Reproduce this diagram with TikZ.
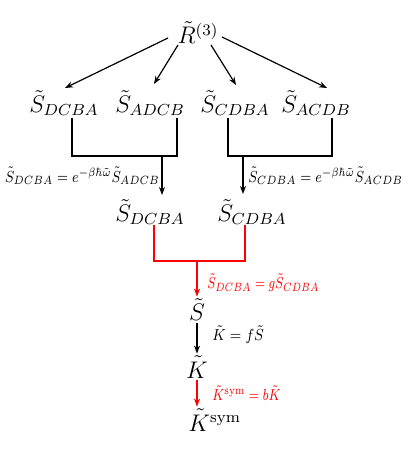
\documentclass[tikz,border=0pt]{standalone}
\usepackage{graphicx}
\usetikzlibrary{arrows.meta}
\newcommand\lblx[2]{\scalebox{#1}[1]{#2}}
\begin{document}
\begin{tikzpicture}[x=0.5pt,y=-0.5pt,
  mainnode/.style={inner sep=1pt,font=\large},
  lbl/.style={inner sep=1pt,font=\footnotesize},
  conn/.style={semithick,-{Stealth[length=4pt,width=3pt]}},
  brk/.style={semithick}]
\useasboundingbox (0,0) rectangle (415,453);
% nodes
\node[mainnode] (R) at (198,33) {$\tilde R^{(3)}$};
\node[mainnode] (a1) at (64,103) {$\tilde S_{DCBA}$};
\node[mainnode] (a2) at (150,103) {$\tilde S_{ADCB}$};
\node[mainnode] (a3) at (235,103) {$\tilde S_{CDBA}$};
\node[mainnode] (a4) at (316,103) {$\tilde S_{ACDB}$};
\node[mainnode] (b1) at (150,212) {$\tilde S_{DCBA}$};
\node[mainnode] (b2) at (252,212) {$\tilde S_{CDBA}$};
\node[mainnode] (S) at (197,310) {$\tilde S$};
\node[mainnode] (K) at (197,367) {$\tilde K$};
\node[mainnode,anchor=west] (Ks) at (186,420) {$\tilde K^{\mathrm{sym}}$};
% arrows from R
\coordinate (r1) at (168,38);
\coordinate (r2) at (178,45);
\coordinate (r3) at (211,45);
\coordinate (r4) at (222,37);
\draw[conn] (r1) -- (65,88);
\draw[conn] (r2) -- (154,84);
\draw[conn] (r3) -- (236,85);
\draw[conn] (r4) -- (327,88);
% brackets
\coordinate (l1) at (72,118);
\coordinate (l2) at (177,118);
\coordinate (l3) at (228,118);
\coordinate (l4) at (332,118);
\coordinate (j1) at (162,156);
\coordinate (j2) at (243,156);
\draw[brk] (l1) -- (72,156) -- (177,156) -- (l2);
\draw[brk] (l3) -- (228,156) -- (332,156) -- (l4);
\draw[conn] (j1) -- (162,195);
\draw[conn] (j2) -- (243,194);
\node[lbl,anchor=east] (e1) at (162,176) {\lblx{0.83}{$\tilde S_{DCBA}=e^{-\beta\hbar\tilde\omega}\tilde S_{ADCB}$}};
\node[lbl,anchor=west] (e2) at (246,176) {\lblx{0.83}{$\tilde S_{CDBA}=e^{-\beta\hbar\tilde\omega}\tilde S_{ACDB}$}};
% red bracket
\coordinate (m1) at (154,225);
\coordinate (m2) at (245,225);
\coordinate (j3) at (197,261);
\draw[brk,red] (m1) -- (154,261) -- (245,261) -- (m2);
\draw[conn,red] (j3) -- (S.north);
\node[lbl,anchor=west,text=red] (e3) at (205,283) {\lblx{0.76}{$\tilde S_{DCBA}=g\tilde S_{CDBA}$}};
\draw[conn] (S.south) -- (K.north);
\node[lbl,anchor=west] (e4) at (210,335) {\lblx{0.87}{$\tilde K=f\tilde S$}};
\draw[conn,red] (K.south) -- (K.south |- Ks.north);
\node[lbl,anchor=west,text=red] (e5) at (210,393) {\lblx{0.78}{$\tilde K^{\mathrm{sym}}=b\tilde K$}};
\end{tikzpicture}
\end{document}
